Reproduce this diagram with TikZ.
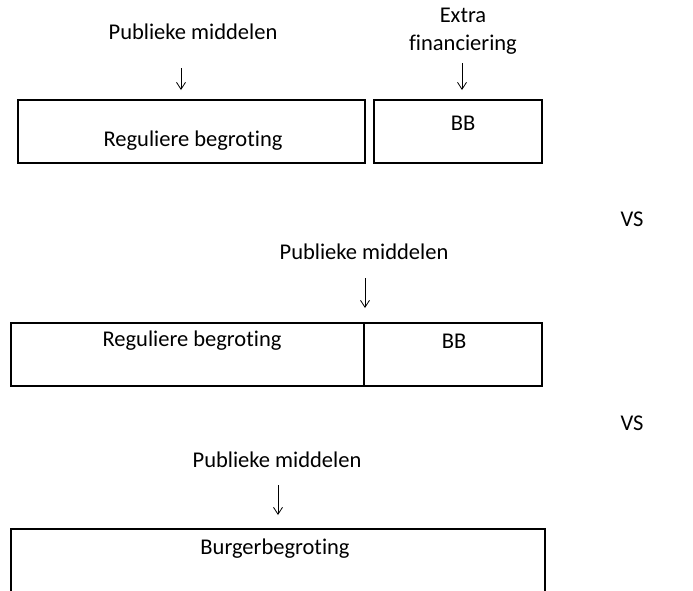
\documentclass[tikz,border=0pt]{standalone}
\usepackage{fontspec}
\setmainfont[Ligatures=NoCommon]{Carlito}
\usetikzlibrary{arrows.meta}
\begin{document}
\begin{tikzpicture}[x=1pt,y=-1pt,
  lbl/.style={inner sep=0pt,font=\fontsize{22.5}{28}\selectfont},
  boxshape/.style={draw,line width=1.6pt,inner sep=0pt,anchor=north west},
  flow/.style={line width=0.8pt,-{Straight Barb[length=7pt,width=9pt,line width=0.8pt]}}]
\useasboundingbox (0,0) rectangle (693,590);
\clip (0,0) rectangle (693,590);
% row 1
\node[lbl] (pm1) at (193,32) {Publieke middelen};
\node[lbl,align=center] (ef) at (463,31) {Extra\\financiering};
\node[boxshape,minimum width=347pt,minimum height=63pt] (rb1) at (17,99) {};
\node[boxshape,minimum width=168pt,minimum height=63pt] (bb1) at (373,99) {};
\node[lbl] (rbt1) at (193,141) {Reguliere begroting};
\node[lbl] (bbt1) at (463,123) {BB};
\coordinate (a1s) at (181,68); \coordinate (a1e) at (181,90);
\coordinate (a2s) at (462,63); \coordinate (a2e) at (462,90);
\draw[flow] (a1s) -- (a1e);
\draw[flow] (a2s) -- (a2e);
\node[lbl] (vs1) at (632,219) {VS};
% row 2
\node[lbl] (pm2) at (364,252) {Publieke middelen};
\coordinate (a3s) at (365,278); \coordinate (a3e) at (365,308);
\draw[flow] (a3s) -- (a3e);
\node[boxshape,minimum width=531pt,minimum height=63pt] (row2) at (10,322) {};
\coordinate (d2t) at (364,322); \coordinate (d2b) at (364,385);
\draw[line width=1.6pt] (d2t) -- (d2b);
\node[lbl] (rbt2) at (192,341) {Reguliere begroting};
\node[lbl] (bbt2) at (454,341) {BB};
\node[lbl] (vs2) at (632,423) {VS};
% row 3
\node[lbl] (pm3) at (277,460) {Publieke middelen};
\coordinate (a4s) at (278,485); \coordinate (a4e) at (278,515);
\draw[flow] (a4s) -- (a4e);
\node[boxshape,minimum width=534pt,minimum height=90pt] (bur) at (10,528) {};
\node[lbl] (burt) at (275,549) {Burgerbegroting};
\end{tikzpicture}
\end{document}
